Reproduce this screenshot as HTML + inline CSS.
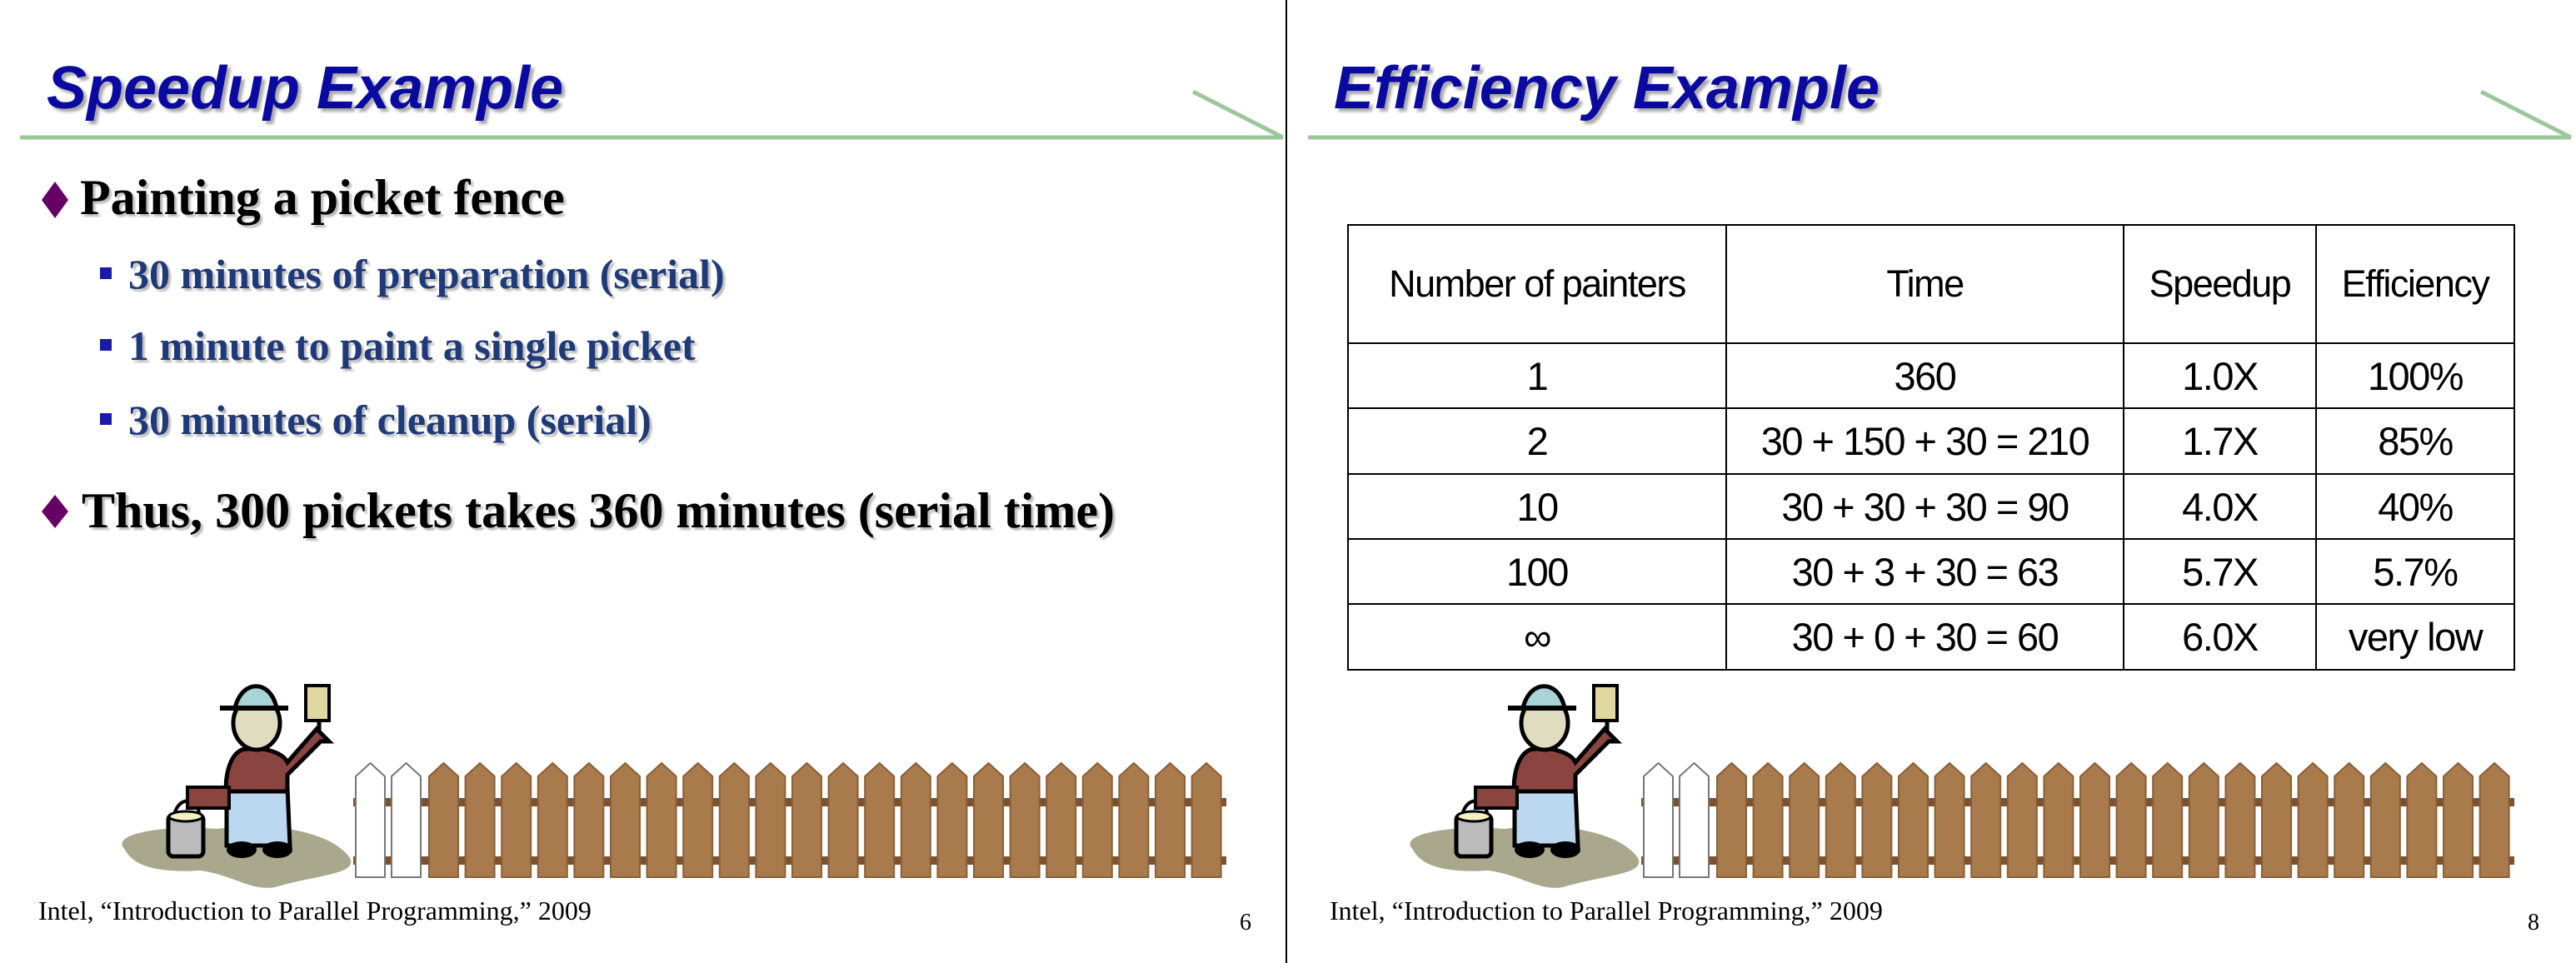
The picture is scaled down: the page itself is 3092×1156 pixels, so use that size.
<!DOCTYPE html>
<html><head><meta charset="utf-8"><style>
body{margin:0;width:3092px;height:1156px;background:#fff;position:relative;overflow:hidden;font-family:"Liberation Serif",serif}
.abs{position:absolute;white-space:nowrap}
.title{font-family:"Liberation Sans",sans-serif;font-weight:bold;font-style:italic;font-size:72px;color:#0a0aa0;text-shadow:4px 4px 3px #aaa;line-height:1}
.b1{font-weight:bold;font-size:60px;color:#000;text-shadow:3px 3px 2px #bbb;line-height:1}
.b2{font-weight:bold;font-size:50px;color:#1f3a78;text-shadow:3px 3px 2px #bbb;line-height:1}
.foot{font-size:32px;color:#000;line-height:1}
table{position:absolute;border-collapse:collapse;font-family:"Liberation Sans",sans-serif;left:1617px;top:269px;width:1402px}
td{border:2px solid #000;text-align:center;font-size:47px;padding:0;letter-spacing:-1.5px}
</style></head><body>
<svg class="abs" style="left:0;top:0" width="3092" height="1156">
<line x1="1544" y1="0" x2="1544" y2="1156" stroke="#000" stroke-width="2"/>
<g stroke="#9cc79a" stroke-width="5" fill="none">
<line x1="24" y1="165" x2="1540" y2="165"/><line x1="1432" y1="110" x2="1540" y2="165"/></g>
<g stroke="#9cc79a" stroke-width="5" fill="none">
<line x1="1570" y1="165" x2="3086" y2="165"/><line x1="2978" y1="110" x2="3086" y2="165"/></g>
<polygon points="66,218 82,240 66,262 50,240" fill="#660066"/>
<polygon points="66,594 82,614 66,634 50,614" fill="#660066"/>
<rect x="120" y="321" width="14" height="14" fill="#1a1aa8"/>
<rect x="120" y="407" width="14" height="14" fill="#1a1aa8"/>
<rect x="120" y="496" width="14" height="14" fill="#1a1aa8"/>
<g id="scenes"></g>
</svg>
<div class="abs title" style="left:56px;top:70px">Speedup Example</div>
<div class="abs title" style="left:1601px;top:70px">Efficiency Example</div>
<div class="abs b1" style="left:96px;top:207px">Painting a picket fence</div>
<div class="abs b2" style="left:154px;top:304px">30 minutes of preparation (serial)</div>
<div class="abs b2" style="left:154px;top:390px">1 minute to paint a single picket</div>
<div class="abs b2" style="left:154px;top:479px">30 minutes of cleanup (serial)</div>
<div class="abs b1" style="left:98px;top:583px">Thus, 300 pickets takes 360 minutes (serial time)</div>
<div class="abs foot" style="left:46px;top:1077px">Intel, “Introduction to Parallel Programming,” 2009</div>
<div class="abs foot" style="left:1488px;top:1094px;font-size:28px">6</div>
<div class="abs foot" style="left:1596px;top:1077px">Intel, “Introduction to Parallel Programming,” 2009</div>
<div class="abs foot" style="left:3034px;top:1094px;font-size:28px">8</div>
<table>
<tr style="height:142px"><td style="width:452px;font-size:45px">Number of painters</td><td style="width:475px;font-size:45px">Time</td><td style="width:229px;font-size:45px">Speedup</td><td style="font-size:45px">Efficiency</td></tr>
<tr style="height:78px"><td>1</td><td>360</td><td>1.0X</td><td>100%</td></tr>
<tr style="height:79px"><td>2</td><td>30 + 150 + 30 = 210</td><td>1.7X</td><td>85%</td></tr>
<tr style="height:78px"><td>10</td><td>30 + 30 + 30 = 90</td><td>4.0X</td><td>40%</td></tr>
<tr style="height:78px"><td>100</td><td>30 + 3 + 30 = 63</td><td>5.7X</td><td>5.7%</td></tr>
<tr style="height:79px"><td>∞</td><td>30 + 0 + 30 = 60</td><td>6.0X</td><td>very low</td></tr>
</table>
<script>
const NS="http://www.w3.org/2000/svg";
const scenes=document.getElementById('scenes');
function mk(tag,attrs,parent){const e=document.createElementNS(NS,tag);for(const k in attrs)e.setAttribute(k,attrs[k]);parent.appendChild(e);return e;}
[0,1546].forEach(function(off,si){
  const g=mk('g',{transform:'translate('+off+',0)'},scenes);
  
  
  mk('path',{d:'M150,1020 C130,1000 200,990 260,995 C330,985 400,1000 420,1030 C430,1050 380,1050 330,1065 C300,1070 280,1050 240,1045 C190,1048 160,1040 150,1020Z',fill:'#aaa88c'},g);
  mk('path',{d:'M208,993 C205,955 240,950 240,985',fill:'none',stroke:'#000','stroke-width':4},g);
  mk('rect',{x:202,y:978,width:42,height:50,rx:6,fill:'#bbb',stroke:'#000','stroke-width':5},g);
  mk('ellipse',{cx:223,cy:980,rx:20,ry:6,fill:'#f5f0c0',stroke:'#000','stroke-width':3},g);
  mk('path',{d:'M272,945 L345,945 L348,1015 L272,1015Z',fill:'#bcd8f0',stroke:'#000','stroke-width':5},g);
  mk('ellipse',{cx:290,cy:1020,rx:18,ry:10,fill:'#000'},g);
  mk('ellipse',{cx:333,cy:1020,rx:18,ry:10,fill:'#000'},g);
  mk('path',{d:'M290,900 C270,910 270,950 272,950 L345,950 L345,930 L385,890 L395,890 L380,875 L345,915 C340,905 320,895 290,900Z',fill:'#8b4540',stroke:'#000','stroke-width':5},g);
  mk('rect',{x:225,y:945,width:50,height:25,fill:'#8b4540',stroke:'#000','stroke-width':4},g);
  mk('line',{x1:383,y1:880,x2:383,y2:862,stroke:'#000','stroke-width':5},g);
  mk('rect',{x:367,y:823,width:28,height:42,fill:'#e0d8a0',stroke:'#000','stroke-width':4},g);
  mk('ellipse',{cx:308,cy:868,rx:28,ry:32,fill:'#e0dcc0',stroke:'#000','stroke-width':5},g);
  mk('path',{d:'M282,850 C290,815 325,815 332,850Z',fill:'#a8d4d8',stroke:'#000','stroke-width':5},g);
  mk('line',{x1:264,y1:850,x2:346,y2:850,stroke:'#000','stroke-width':6},g);
  const fence=mk('g',{},g);
  
  
  mk('rect',{x:424,y:958,width:1048,height:10,fill:'#7a5230'},fence);
  mk('rect',{x:424,y:1028,width:1048,height:10,fill:'#7a5230'},fence);
  for(let i=0;i<24;i++){
    const x=i<2?427+i*43:515+(i-2)*43.6, w=35;
    const white=i<2;
    const p=mk('path',{d:'M'+x+',1053 L'+x+',932 L'+(x+w/2)+',916 L'+(x+w)+',932 L'+(x+w)+',1053Z',fill:white?'#fff':'#a87a4c',stroke:white?'#777':'#8a6038','stroke-width':2},fence);
    
    
  }
});
</script>
</body></html>
